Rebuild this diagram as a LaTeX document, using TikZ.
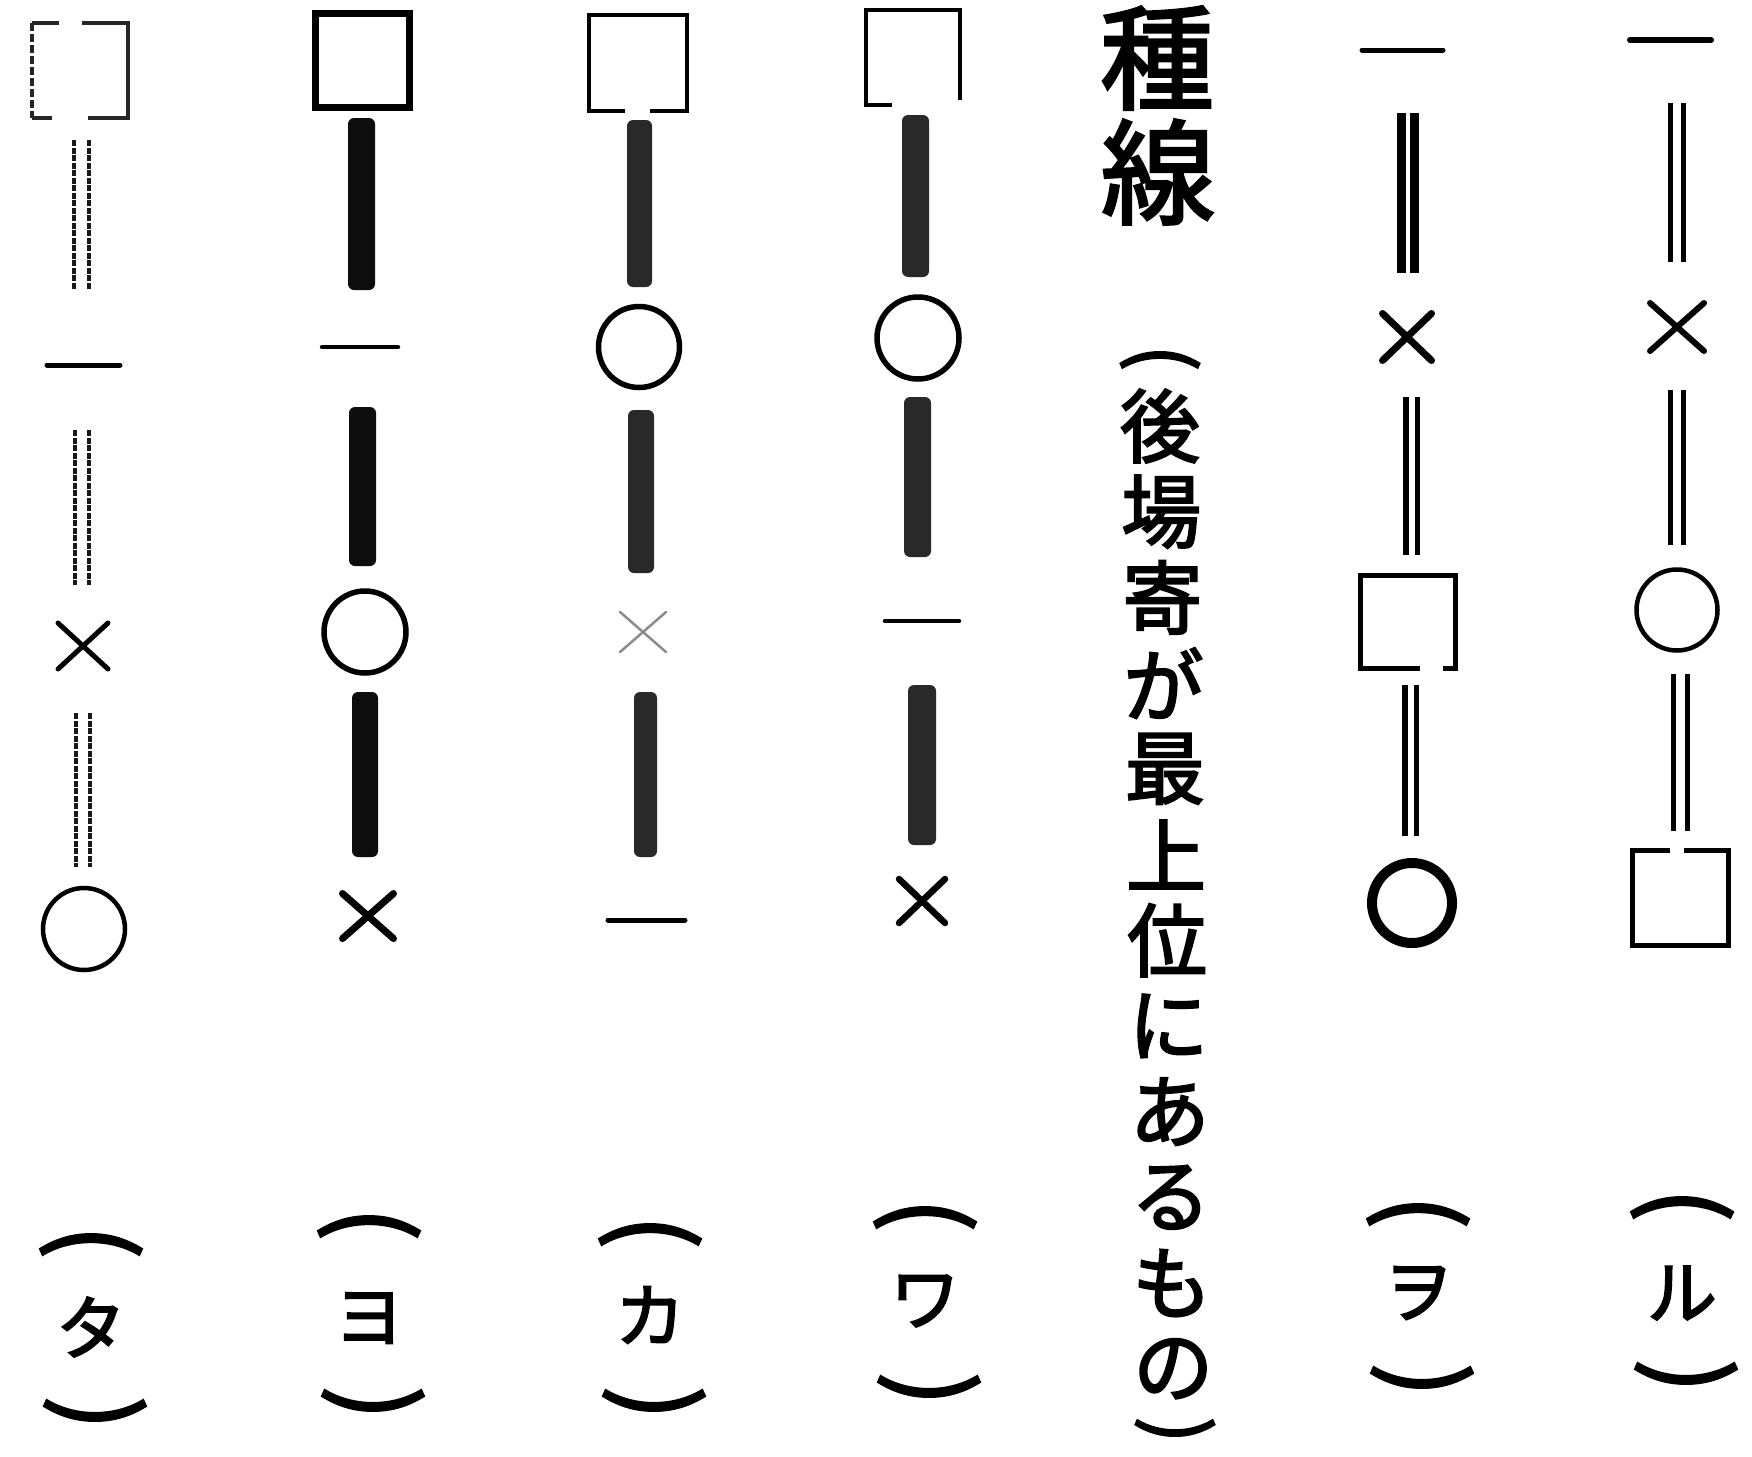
\documentclass[tikz,border=0pt]{standalone}
\usepackage{fontspec}
\newfontfamily\cjk[AutoFakeBold=2.5]{Noto Sans CJK JP}
\usetikzlibrary{shapes.misc}
\newcommand{\labfont}{\cjk\bfseries\fontsize{70}{70}\selectfont}
\newcommand{\parfont}{\cjk\bfseries\fontsize{100}{100}\selectfont}
\newcommand{\subparfont}{\cjk\bfseries\fontsize{78}{78}\selectfont}
\newcommand{\subfont}{\cjk\bfseries\fontsize{80}{80}\selectfont}
\newcommand{\ttlfont}{\cjk\bfseries\fontsize{114}{114}\selectfont}
\newcommand{\mklabel}[6]{%
  \node[font=\parfont,rotate=-90] (#1-po) at (#2,#3) {(};
  \node[font=\labfont] (#1-lab) at (#2,#4) {#6};
  \node[font=\parfont,rotate=-90] (#1-pc) at (#2+4,#5) {)};
}
\begin{document}
\begin{tikzpicture}[x=1pt,y=-1pt,
  every node/.style={inner sep=0pt,outer sep=0pt},
  xmark/.style={cross out,draw,line cap=round,line width=#1},
  ring/.style={circle,draw,line width=#1},
  solidbar/.style={fill=black!95,rounded corners=6pt},
  greybar/.style={fill=black!84,rounded corners=6pt},
  tick/.style={line width=#1,line cap=round},
  dotline/.style={line width=3.5,dash pattern=on 6pt off 1.5pt,black!90},
  dbl/.style={line width=#1,double=white}]
\fill[white] (0,0) rectangle (1752,1456);
\useasboundingbox (0,0) rectangle (1752,1456);

% ---- column タ
\draw[line width=3.5,black!85] (59,23) -- (32,23);
\draw[line width=3.5,black!85,dash pattern=on 8pt off 3pt] (32,23) -- (32,118);
\draw[line width=3.5,black!85] (82,23) -- (128,23) -- (128,118) -- (88,118);
\draw[line width=3.5,black!85] (52,118) -- (32,118);
\draw[dotline] (74,140) -- (74,290);
\draw[dotline] (89,140) -- (89,290);
\draw[tick=5] (47,365) -- (120,365);
\draw[dotline] (75,430) -- (75,585);
\draw[dotline] (89,430) -- (89,585);
\node[xmark=5,minimum width=50,minimum height=46] (ta-x) at (83,646) {};
\draw[dotline] (76,713) -- (76,867);
\draw[dotline] (90,713) -- (90,867);
\node[ring=4.5,minimum size=82] (ta-o) at (84,929) {};

% ---- column ヨ
\node[draw,line width=7,minimum width=94,minimum height=94] (yo-sq) at (362.5,60) {};
\node[solidbar,minimum width=27,minimum height=172] (yo-b1) at (361.5,204) {};
\draw[tick=4.5] (322,347) -- (398,347);
\node[solidbar,minimum width=27,minimum height=159] (yo-b2) at (362.5,486.5) {};
\node[ring=5.5,minimum size=82] (yo-o) at (365,632) {};
\node[solidbar,minimum width=26,minimum height=165] (yo-b3) at (365,774.5) {};
\node[xmark=7,minimum width=51,minimum height=45] (yo-x) at (368,916) {};

% ---- column カ
\draw[line width=4.5] (625,111) -- (589,111) -- (589,15) -- (687,15) -- (687,111) -- (650,111);
\node[greybar,minimum width=25,minimum height=167] (ka-b1) at (639.5,203.5) {};
\node[ring=5.5,minimum size=81] (ka-o) at (639,347) {};
\node[greybar,minimum width=26,minimum height=163] (ka-b2) at (641,491.5) {};
\node[xmark=2.5,draw=black!45,minimum width=46,minimum height=40] (ka-x) at (643,632) {};
\node[greybar,minimum width=23,minimum height=165] (ka-b3) at (645.5,774.5) {};
\draw[tick=5] (608,920) -- (685,920);

% ---- column ワ
\draw[line width=4] (892,105) -- (866,105) -- (866,10) -- (960,10) -- (960,100);
\node[greybar,minimum width=27,minimum height=162] (wa-b1) at (915.5,196) {};
\node[ring=5.5,minimum size=82] (wa-o) at (918,338) {};
\node[greybar,minimum width=27,minimum height=160] (wa-b2) at (917.5,477) {};
\draw[tick=4.5] (885,621) -- (959,621);
\node[greybar,minimum width=28,minimum height=160] (wa-b3) at (922,765) {};
\node[xmark=6.5,minimum width=46,minimum height=44] (wa-x) at (922,901) {};

% ---- title column
\node[font=\ttlfont] (t1) at (1157,58) {種};
\node[font=\ttlfont] (t2) at (1158,172) {線};
\node[font=\subparfont,rotate=-90] (sub-po) at (1160,358) {(};
\foreach \c [count=\i] in {後,場,寄,が,最,上,位,に,あ,る,も,の}
  \node[font=\subfont] (sub\i) at ({1160+1.2*(\i-1)},{426+85.7*(\i-1)}) {\c};
\node[font=\subparfont,rotate=-90] (sub-pc) at (1175,1430) {)};

% ---- column ヲ
\draw[tick=5] (1362,50) -- (1443,50);
\draw[dbl=9,double distance=4] (1407.5,113) -- (1407.5,273);
\node[xmark=7,minimum width=49,minimum height=47] (wo-x) at (1407,337) {};
\draw[dbl=5.5,double distance=6] (1411.5,397) -- (1411.5,555);
\draw[line width=5] (1420,668.5) -- (1360.5,668.5) -- (1360.5,575.5) -- (1455.5,575.5) -- (1455.5,668.5) -- (1443,668.5);
\draw[dbl=5.5,double distance=6] (1410.5,685) -- (1410.5,836);
\node[ring=10,minimum size=80] (wo-o) at (1412,903) {};

% ---- column ル
\draw[tick=6] (1630,40) -- (1711,40);
\draw[dbl=5,double distance=8] (1677,103) -- (1677,262);
\node[xmark=6,minimum width=54,minimum height=48] (ru-x) at (1677,327) {};
\draw[dbl=5,double distance=8] (1677,390) -- (1677,545);
\node[ring=4.5,minimum size=81] (ru-o) at (1677,610) {};
\draw[dbl=5,double distance=9] (1680,674) -- (1680,831);
\draw[line width=5] (1670,850.5) -- (1632.5,850.5) -- (1632.5,945.5) -- (1728.5,945.5) -- (1728.5,850.5) -- (1684,850.5);

% ---- labels
\mklabel{ta}{91}{1242}{1327}{1413}{タ}
\mklabel{yo}{369}{1224}{1318}{1403}{ヨ}
\mklabel{ka}{650}{1232}{1315}{1403}{カ}
\mklabel{wa}{925}{1215}{1301}{1389}{ワ}
\mklabel{wo}{1418}{1212}{1293}{1380}{ヲ}
\mklabel{ru}{1682}{1205}{1293}{1376}{ル}
\end{tikzpicture}
\end{document}
